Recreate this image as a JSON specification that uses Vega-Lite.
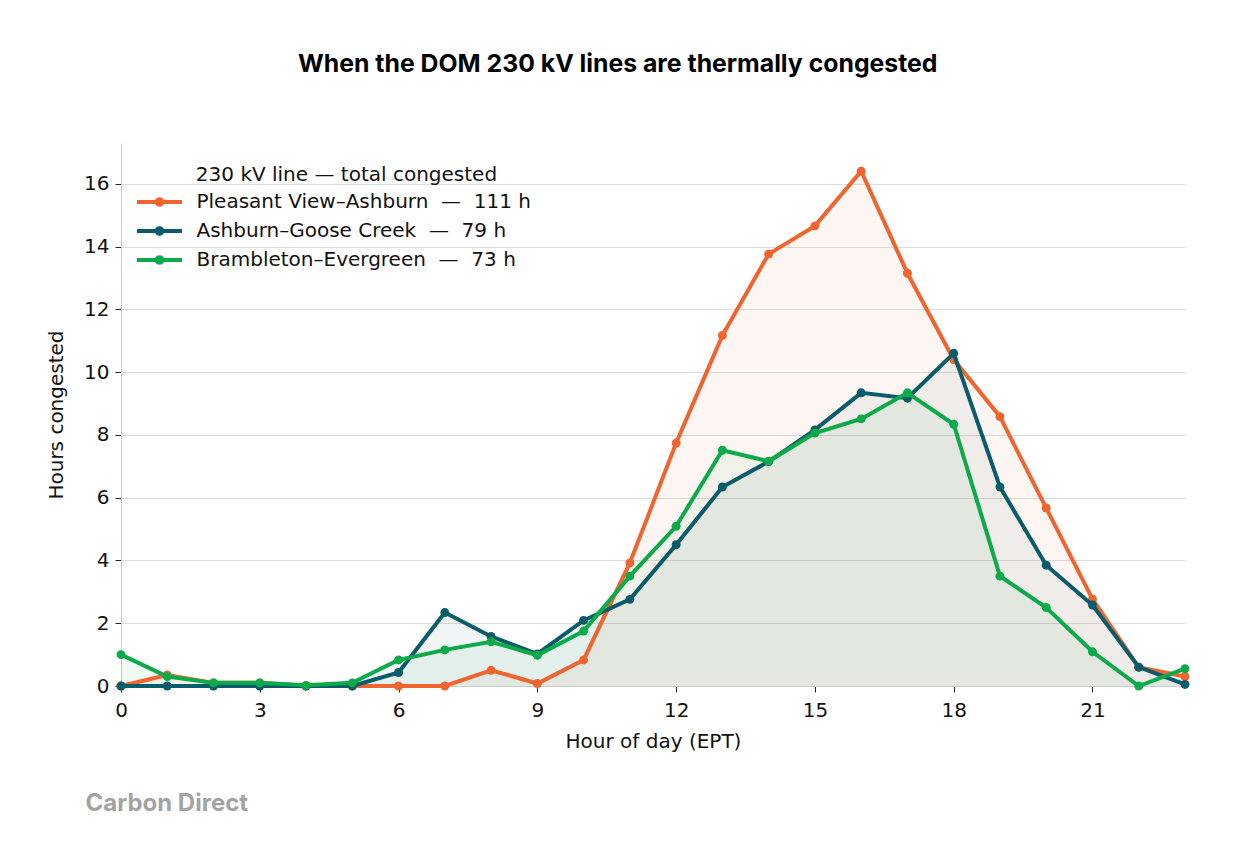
{
  "$schema": "https://vega.github.io/schema/vega-lite/v6.json",
  "background": "white",
  "padding": {"left": 46, "top": 52, "right": 40, "bottom": 20},
  "title": {"text": "When the DOM 230 kV lines are thermally congested", "font": "Inter", "fontWeight": "bold", "fontSize": 24.8, "color": "#000000", "anchor": "middle", "frame": "bounds", "offset": 66, "dx": -2},
  "datasets": {
    "series": [
      {"hour": 0, "line": "PV", "hours": 0}, {"hour": 1, "line": "PV", "hours": 0.35}, {"hour": 2, "line": "PV", "hours": 0.1}, {"hour": 3, "line": "PV", "hours": 0.1},
      {"hour": 4, "line": "PV", "hours": 0}, {"hour": 5, "line": "PV", "hours": 0}, {"hour": 6, "line": "PV", "hours": 0}, {"hour": 7, "line": "PV", "hours": 0},
      {"hour": 8, "line": "PV", "hours": 0.5}, {"hour": 9, "line": "PV", "hours": 0.08}, {"hour": 10, "line": "PV", "hours": 0.83}, {"hour": 11, "line": "PV", "hours": 3.92},
      {"hour": 12, "line": "PV", "hours": 7.74}, {"hour": 13, "line": "PV", "hours": 11.17}, {"hour": 14, "line": "PV", "hours": 13.76}, {"hour": 15, "line": "PV", "hours": 14.66},
      {"hour": 16, "line": "PV", "hours": 16.4}, {"hour": 17, "line": "PV", "hours": 13.15}, {"hour": 18, "line": "PV", "hours": 10.4}, {"hour": 19, "line": "PV", "hours": 8.58},
      {"hour": 20, "line": "PV", "hours": 5.67}, {"hour": 21, "line": "PV", "hours": 2.77}, {"hour": 22, "line": "PV", "hours": 0.6}, {"hour": 23, "line": "PV", "hours": 0.3},
      {"hour": 0, "line": "AGC", "hours": 0}, {"hour": 1, "line": "AGC", "hours": 0}, {"hour": 2, "line": "AGC", "hours": 0}, {"hour": 3, "line": "AGC", "hours": 0},
      {"hour": 4, "line": "AGC", "hours": 0}, {"hour": 5, "line": "AGC", "hours": 0}, {"hour": 6, "line": "AGC", "hours": 0.43}, {"hour": 7, "line": "AGC", "hours": 2.34},
      {"hour": 8, "line": "AGC", "hours": 1.58}, {"hour": 9, "line": "AGC", "hours": 1.02}, {"hour": 10, "line": "AGC", "hours": 2.09}, {"hour": 11, "line": "AGC", "hours": 2.76},
      {"hour": 12, "line": "AGC", "hours": 4.5}, {"hour": 13, "line": "AGC", "hours": 6.34}, {"hour": 14, "line": "AGC", "hours": 7.15}, {"hour": 15, "line": "AGC", "hours": 8.16},
      {"hour": 16, "line": "AGC", "hours": 9.34}, {"hour": 17, "line": "AGC", "hours": 9.17}, {"hour": 18, "line": "AGC", "hours": 10.6}, {"hour": 19, "line": "AGC", "hours": 6.34},
      {"hour": 20, "line": "AGC", "hours": 3.85}, {"hour": 21, "line": "AGC", "hours": 2.58}, {"hour": 22, "line": "AGC", "hours": 0.6}, {"hour": 23, "line": "AGC", "hours": 0.05},
      {"hour": 0, "line": "BE", "hours": 1.0}, {"hour": 1, "line": "BE", "hours": 0.3}, {"hour": 2, "line": "BE", "hours": 0.1}, {"hour": 3, "line": "BE", "hours": 0.1},
      {"hour": 4, "line": "BE", "hours": 0.02}, {"hour": 5, "line": "BE", "hours": 0.1}, {"hour": 6, "line": "BE", "hours": 0.83}, {"hour": 7, "line": "BE", "hours": 1.15},
      {"hour": 8, "line": "BE", "hours": 1.41}, {"hour": 9, "line": "BE", "hours": 0.98}, {"hour": 10, "line": "BE", "hours": 1.75}, {"hour": 11, "line": "BE", "hours": 3.5},
      {"hour": 12, "line": "BE", "hours": 5.09}, {"hour": 13, "line": "BE", "hours": 7.51}, {"hour": 14, "line": "BE", "hours": 7.16}, {"hour": 15, "line": "BE", "hours": 8.06},
      {"hour": 16, "line": "BE", "hours": 8.51}, {"hour": 17, "line": "BE", "hours": 9.34}, {"hour": 18, "line": "BE", "hours": 8.34}, {"hour": 19, "line": "BE", "hours": 3.5},
      {"hour": 20, "line": "BE", "hours": 2.5}, {"hour": 21, "line": "BE", "hours": 1.09}, {"hour": 22, "line": "BE", "hours": 0}, {"hour": 23, "line": "BE", "hours": 0.55}
    ],
    "names": [
      {"line": "PV", "label": "Pleasant View–Ashburn\u00a0\u00a0—\u00a0\u00a0111 h"},
      {"line": "AGC", "label": "Ashburn–Goose Creek\u00a0\u00a0—\u00a0\u00a079 h"},
      {"line": "BE", "label": "Brambleton–Evergreen\u00a0\u00a0—\u00a0\u00a073 h"}
    ]
  },
  "vconcat": [
    {
      "width": 1064,
      "height": 543,
      "title": {"text": "Carbon Direct", "orient": "bottom", "anchor": "start", "frame": "bounds", "font": "Inter", "fontWeight": "bold", "fontSize": 24, "color": "#a3a3a3", "offset": 41, "dx": 39},
      "data": {"name": "series"},
      "transform": [
        {"lookup": "line", "from": {"data": {"name": "names"}, "key": "line", "fields": ["label"]}}
      ],
      "encoding": {
        "x": {"field": "hour", "type": "quantitative", "scale": {"domain": [0, 23], "nice": false, "zero": false},
              "axis": {"title": "Hour of day (EPT)", "values": [0, 3, 6, 9, 12, 15, 18, 21], "grid": false, "labelFlush": false}},
        "y": {"field": "hours", "type": "quantitative", "scale": {"domain": [0, 17.3], "nice": false},
              "axis": {"title": "Hours congested", "values": [0, 2, 4, 6, 8, 10, 12, 14, 16], "grid": true}}
      },
      "layer": [
        {"transform": [{"filter": "datum.line === 'PV'"}], "mark": {"type": "area", "color": "#F0652F", "opacity": 0.06}},
        {"transform": [{"filter": "datum.line === 'AGC'"}], "mark": {"type": "area", "color": "#0B5C6B", "opacity": 0.06}},
        {"transform": [{"filter": "datum.line === 'BE'"}], "mark": {"type": "area", "color": "#0DAA4A", "opacity": 0.06}},
        {"transform": [{"filter": "datum.line === 'PV'"}], "mark": {"type": "line", "strokeWidth": 4, "point": {"filled": true, "size": 80, "opacity": 1}},
         "encoding": {"color": {"field": "label", "type": "nominal", "scale": {"domain": ["Pleasant View–Ashburn\u00a0\u00a0—\u00a0\u00a0111 h", "Ashburn–Goose Creek\u00a0\u00a0—\u00a0\u00a079 h", "Brambleton–Evergreen\u00a0\u00a0—\u00a0\u00a073 h"], "range": ["#F0652F", "#0B5C6B", "#0DAA4A"]}, "legend": {"title": "\u200b\u00a0\u00a0\u00a0\u00a0\u00a0\u00a0\u00a0\u00a0\u200a230 kV line — total congested"}}}},
        {"transform": [{"filter": "datum.line === 'AGC'"}], "mark": {"type": "line", "strokeWidth": 4, "point": {"filled": true, "size": 80, "opacity": 1}},
         "encoding": {"color": {"field": "label", "type": "nominal"}}},
        {"transform": [{"filter": "datum.line === 'BE'"}], "mark": {"type": "line", "strokeWidth": 4, "point": {"filled": true, "size": 80, "opacity": 1}},
         "encoding": {"color": {"field": "label", "type": "nominal"}}}
      ]
    }
  ],
  "config": {
    "font": "DejaVu Sans",
    "view": {"stroke": null},
    "axis": {
      "labelFont": "DejaVu Sans", "titleFont": "DejaVu Sans",
      "labelFontSize": 20, "titleFontSize": 20, "titleFontWeight": "normal",
      "labelColor": "#111111", "titleColor": "#111111",
      "domainColor": "#cccccc", "domainWidth": 1,
      "tickColor": "#222222", "tickSize": 6, "tickWidth": 1,
      "gridColor": "#dddddd", "gridWidth": 1.2
    },
    "axisX": {"labelPadding": 8, "titlePadding": 11},
    "axisY": {"labelPadding": 6, "titlePadding": 17},
    "legend": {
      "orient": "top-left", "offset": 22, "padding": 0,
      "titleFont": "DejaVu Sans", "titleFontSize": 20, "titleFontWeight": "normal", "titleColor": "#111111",
      "titleAnchor": "start", "titlePadding": 5, "titleLimit": 700,
      "labelFont": "DejaVu Sans", "labelFontSize": 20, "labelColor": "#111111", "labelLimit": 700,
      "symbolType": "M-2.25,0L2.25,0M0.28,0A0.28,0.28,0,1,1,-0.28,0A0.28,0.28,0,1,1,0.28,0",
      "symbolSize": 400, "symbolStrokeWidth": 4, "symbolOffset": 4.5, "labelOffset": 25, "rowPadding": 6
    }
  }
}
